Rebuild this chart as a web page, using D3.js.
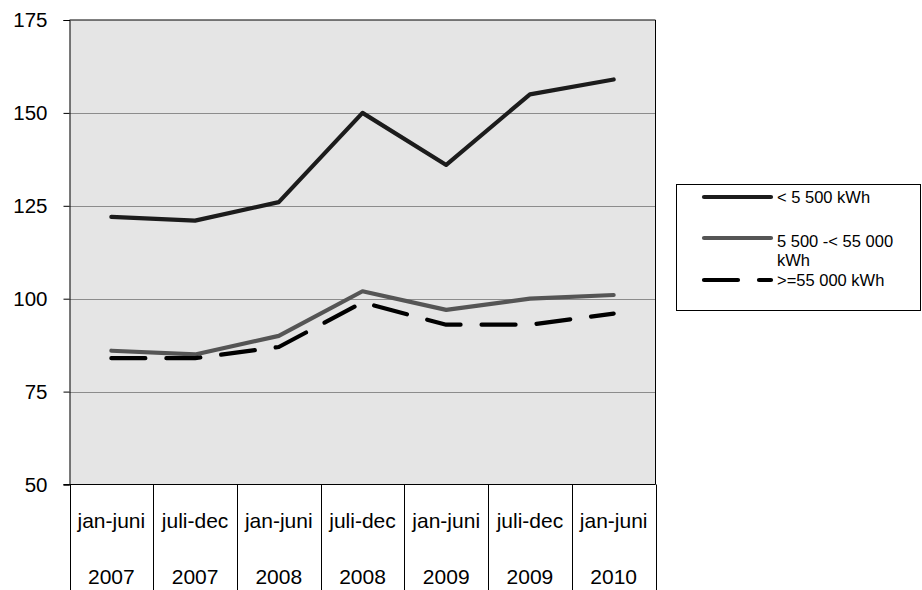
<!DOCTYPE html>
<html><head><meta charset="utf-8">
<script src="https://cdn.jsdelivr.net/npm/d3@7"></script>
<style>body{margin:0;background:#fff}svg{display:block;font-family:"Liberation Sans",Arial,sans-serif}</style>
</head><body><svg id="c" width="922" height="590"></svg>
<script>
const periods = ["jan-juni","juli-dec","jan-juni","juli-dec","jan-juni","juli-dec","jan-juni"];
const years = ["2007","2007","2008","2008","2009","2009","2010"];
const yTicks = [50,75,100,125,150,175];
const seriesNames = ["< 5 500 kWh","5 500 -< 55 000 kWh",">=55 000 kWh"];
const small = [122,121,126,150,136,155,159];
const medium = [86,85,90,102,97,100,101];
const large = [84,84,87,99,93,93,96];

const svg = d3.select("#c");
const L=69.5, R=655.5, T=20, B=484.5;
const x = d3.scaleBand().domain(d3.range(periods.length)).range([L,R]);
const y = d3.scaleLinear().domain([50,175]).range([B,T]);

svg.append("rect").attr("x",L).attr("y",T).attr("width",R-L).attr("height",B-T).attr("fill","#e5e5e5");
svg.append("g").selectAll("line").data(yTicks.filter(d=>d>50&&d<175)).join("line")
  .attr("x1",L).attr("x2",R).attr("y1",d=>Math.round(y(d))+0.5).attr("y2",d=>Math.round(y(d))+0.5)
  .attr("stroke","#8c8c8c").attr("stroke-width",1.2);
svg.append("path").attr("d",`M${L},${T}H${R}V${B}`).attr("fill","none").attr("stroke","#000").attr("stroke-width",1);

const yAxis = svg.append("g").attr("transform",`translate(${L},0)`)
  .call(d3.axisLeft(y).tickValues(yTicks).tickSize(6).tickPadding(16));
yAxis.select(".domain").attr("stroke","#000");
yAxis.selectAll("text").attr("font-size",20.5).attr("fill","#000").attr("font-family","Liberation Sans, Arial, sans-serif");

// bottom axis line and separators
svg.append("line").attr("x1",L-6).attr("x2",R).attr("y1",B).attr("y2",B).attr("stroke","#000");
const seps = d3.range(periods.length+1).map(i=> i<periods.length ? x(i) : R);
svg.append("g").selectAll("line").data(seps).join("line")
  .attr("x1",d=>Math.round(d)+0.5).attr("x2",d=>Math.round(d)+0.5).attr("y1",B).attr("y2",590)
  .attr("stroke","#000");
const xg = svg.append("g");
xg.selectAll("text.p").data(periods).join("text").attr("class","p")
  .attr("x",(d,i)=>x(i)+x.bandwidth()/2).attr("y",528).attr("text-anchor","middle")
  .attr("font-size",21).text(d=>d);
xg.selectAll("text.yr").data(years).join("text").attr("class","yr")
  .attr("x",(d,i)=>x(i)+x.bandwidth()/2).attr("y",584).attr("text-anchor","middle")
  .attr("font-size",21).text(d=>d);

const line = d3.line().x((d,i)=>x(i)+x.bandwidth()/2).y(d=>y(d));
const styles = [
  {data:small, color:"#1c1c1c", dash:null},
  {data:medium, color:"#555555", dash:null},
  {data:large, color:"#000000", dash:"34,21"}
];
styles.forEach(s=>{
  svg.append("path").attr("d",line(s.data)).attr("fill","none").attr("stroke",s.color)
    .attr("stroke-width",4.2).attr("stroke-linejoin","round").attr("stroke-linecap","round")
    .attr("stroke-dasharray",s.dash);
});

// legend
const lg = svg.append("g");
lg.append("rect").attr("x",676.5).attr("y",184.5).attr("width",244).attr("height",126)
  .attr("fill","#fff").attr("stroke","#000");
const lgY = [197,238,280];
styles.forEach((s,i)=>{
  lg.append("line").attr("x1",704).attr("x2",771).attr("y1",lgY[i]).attr("y2",lgY[i])
    .attr("stroke",s.color).attr("stroke-width",4.2).attr("stroke-linecap","round")
    .attr("stroke-dasharray",s.dash);
});
const fs = 16.5;
lg.append("text").attr("x",777).attr("y",203).attr("font-size",fs).text(seriesNames[0]);
const t2 = lg.append("text").attr("x",777).attr("y",247).attr("font-size",fs);
t2.append("tspan").attr("x",777).text("5 500 -< 55 000");
t2.append("tspan").attr("x",777).attr("dy",19).text("kWh");
lg.append("text").attr("x",777).attr("y",286).attr("font-size",fs).text(seriesNames[2]);
</script></body></html>
